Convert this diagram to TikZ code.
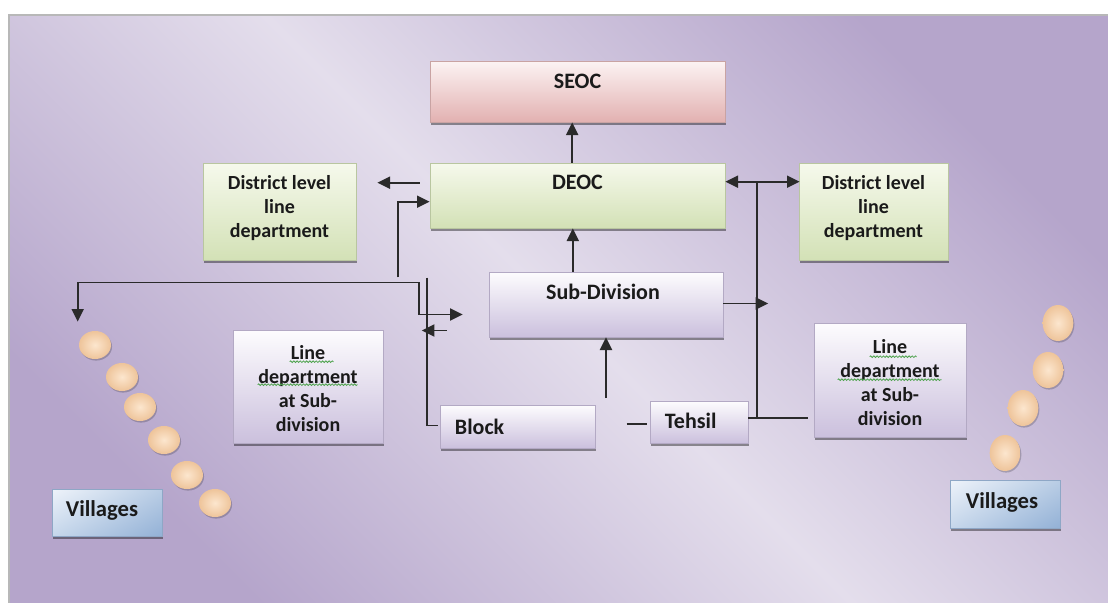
\documentclass[tikz,border=0pt]{standalone}
\usepackage{fontspec}
\setmainfont{Carlito}
\usetikzlibrary{arrows.meta,calc,fit,shadows,shadings,shapes.geometric,decorations.pathmorphing}

% palette
\definecolor{bgdark}{HTML}{B5A5CB}
\definecolor{bglight}{HTML}{E4DEEC}
\definecolor{ink}{HTML}{1A1A1A}
\definecolor{wire}{HTML}{2A2A2A}
\definecolor{pinktop}{HTML}{FCF3F3}
\definecolor{pinkbot}{HTML}{E2B1B1}
\definecolor{pinkrim}{HTML}{C9A3A3}
\definecolor{greentop}{HTML}{F6F9EC}
\definecolor{greenbot}{HTML}{D3E1B6}
\definecolor{greenrim}{HTML}{B9C6A0}
\definecolor{lilactop}{HTML}{FDFCFE}
\definecolor{lilacbot}{HTML}{CBC0DD}
\definecolor{lilacrim}{HTML}{B3A9C4}
\definecolor{bluetl}{HTML}{EEF3FA}
\definecolor{bluetr}{HTML}{B9CDE5}
\definecolor{bluebl}{HTML}{C6D7EB}
\definecolor{bluebr}{HTML}{93B1D6}
\definecolor{bluerim}{HTML}{8EA7C6}
\definecolor{peachin}{HTML}{FCE6CE}
\definecolor{peachout}{HTML}{EEC49A}
\definecolor{squig}{HTML}{4FA34F}

\begin{document}
\begin{tikzpicture}[x=0.75pt,y=-0.75pt,
  base/.style={inner sep=0pt, line width=0.5pt,
    drop shadow={shadow xshift=0.9pt, shadow yshift=-2pt, fill=black, opacity=0.4}},
  pinkbox/.style={base, draw=pinkrim, top color=pinktop, bottom color=pinkbot},
  greenbox/.style={base, draw=greenrim, top color=greentop, bottom color=greenbot},
  lilacbox/.style={base, draw=lilacrim, top color=lilactop, bottom color=lilacbot},
  bluebox/.style={base, draw=bluerim, upper left=bluetl, upper right=bluetr,
    lower left=bluebl, lower right=bluebr},
  lbl/.style={inner sep=0pt, text=ink, font=\fontsize{16.5}{20}\selectfont\bfseries},
  dept/.style={lbl, align=center, font=\fontsize{15}{18}\selectfont\bfseries},
  vlbl/.style={lbl, font=\fontsize{17}{20}\selectfont\bfseries},
  wireline/.style={draw=wire, line width=1.45pt},
  arr/.style={wireline, -{Triangle[length=9.5pt,width=9pt]}},
  arrboth/.style={wireline, {Triangle[length=9.5pt,width=9pt]}-{Triangle[length=9.5pt,width=9pt]}},
  dot/.style={ellipse, inner sep=0pt, inner color=peachin, outer color=peachout,
    drop shadow={shadow xshift=0.8pt, shadow yshift=-1.2pt, fill=black, opacity=0.2}},
  wavy/.style={draw=squig, line width=0.6pt,
    decorate, decoration={snake, amplitude=0.6pt, segment length=2.4pt}}
]

% page and background panel
\useasboundingbox (0,0) rectangle (1108,603);
\fill[white] (0,0) rectangle (1108,603);
\shade[top color=bgdark, bottom color=bgdark, middle color=bglight, shading angle=-45]
  (9,15) rectangle (1108,603);
\draw[black!28, line width=1.2pt] (9,603) -- (9,15) -- (1108,15);

% boxes
\node[pinkbox,  fit={(430,61) (725,122)}]  (seoc) {};
\node[greenbox, fit={(430,163) (725,228)}] (deoc) {};
\node[greenbox, fit={(203,163) (356,260)}] (dl) {};
\node[greenbox, fit={(799,163) (948,260)}] (dr) {};
\node[lilacbox, fit={(489,272) (723,337)}] (sub) {};
\node[lilacbox, fit={(440,405) (595,448)}] (blk) {};
\node[lilacbox, fit={(650,401) (748,443)}] (teh) {};
\node[lilacbox, fit={(233,330) (383,443)}] (ldl) {};
\node[lilacbox, fit={(814,323) (966,437)}] (ldr) {};
\node[bluebox,  fit={(52,489) (162,536)}]  (vil) {};
\node[bluebox,  fit={(950,480) (1060,528)}] (vir) {};

% box texts
\node[lbl] (seoct) at ($(seoc.north)+(0,21)$) {SEOC};
\node[lbl] (deoct) at ($(deoc.north)+(0,20)$) {DEOC};
\node[lbl] (subt)  at ($(sub.north)+(-3,20)$) {Sub-Division};
\node[lbl, anchor=west] (blkt) at ($(blk.west)+(15,0)$) {Block};
\node[lbl, anchor=west] (teht) at ($(teh.west)+(15,-1)$) {Tehsil};
\node[dept] (dlt) at ($(dl.center)+(0,-3)$) {District level\\line\\department};
\node[dept] (drt) at ($(dr.center)+(0,-3)$) {District level\\line\\department};
\node[dept] (ldlt) at ($(ldl.center)+(0,2.5)$) {Line\\department\\at Sub-\\division};
\node[dept] (ldrt) at ($(ldr.center)+(0,2.5)$) {Line\\department\\at Sub-\\division};
\node[vlbl] (vilt) at ($(vil.center)+(-5,-2)$) {Villages};
\node[vlbl] (virt) at ($(vir.center)+(-3,-2)$) {Villages};

% spell-check underlines
\draw[wavy] ($(ldl.north west)+(57,32)$) -- ($(ldl.north west)+(101,32)$);
\draw[wavy] ($(ldl.north west)+(25,55)$) -- ($(ldl.north west)+(125,55)$);
\draw[wavy] ($(ldr.north west)+(56,34)$) -- ($(ldr.north west)+(103,34)$);
\draw[wavy] ($(ldr.north west)+(24,57)$) -- ($(ldr.north west)+(128,57)$);

% villages
\node[dot, minimum width=24pt, minimum height=21pt] (a1) at (95,345) {};
\node[dot, minimum width=24pt, minimum height=21pt] (a2) at (122,377) {};
\node[dot, minimum width=24pt, minimum height=21pt] (a3) at (140,407) {};
\node[dot, minimum width=24pt, minimum height=21pt] (a4) at (164,440) {};
\node[dot, minimum width=24pt, minimum height=21pt] (a5) at (187,475) {};
\node[dot, minimum width=24pt, minimum height=21pt] (a6) at (215,503) {};
\node[dot, minimum width=23pt, minimum height=27pt] (b1) at (1058,323) {};
\node[dot, minimum width=23pt, minimum height=27pt] (b2) at (1048,370) {};
\node[dot, minimum width=23pt, minimum height=27pt] (b3) at (1023,408) {};
\node[dot, minimum width=23pt, minimum height=27pt] (b4) at (1005,453) {};

% connectors
\draw[arr] ([xshift=-4pt]deoc.north) -- ([xshift=-4pt]seoc.south);
\draw[arr] ([xshift=-3.5pt]deoc.south |- sub.north) -- ([xshift=-3.5pt]deoc.south);
\draw[arr] ([yshift=5pt]blk.north -| sub.south) -- (sub.south);
\draw[arr] ($(deoc.north west)+(-10,20)$) -- ($(dl.north east)+(21,20)$);
\draw[arr] ($(dl.south east)+(42,17)$) |- ($(deoc.north west)+(0,39)$);
\draw[arrboth] ($(sub.west)+(-26,10)$) -- ++(-44,0) -- ++(0,-32)
  -| ($(vil.north west)+(26,-167)$);
\draw[wireline] ($(blk.west)+(-13,-149)$) |- ($(blk.west)+(-2,-1)$);
\draw[arr] ($(blk.west)+(7,-96)$) -- ($(blk.west)+(-18,-96)$);
\draw[arrboth] ($(deoc.north east)+(0,19)$) -- ($(dr.north west)+(1,19)$);
\draw[wireline] ($(deoc.north east)+(32,19)$) -- ($(teh.east)+(9,-4)$);
\draw[wireline] ($(teh.east)+(0,-4)$) -- ($(ldr.west)+(-6,38)$);
\draw[arr] ($(sub.east)+(0,-1)$) -- ($(sub.east)+(45,-1)$);
\draw[wireline] ($(teh.west)+(-23,2)$) -- ($(teh.west)+(-3,2)$);

\end{tikzpicture}
\end{document}
